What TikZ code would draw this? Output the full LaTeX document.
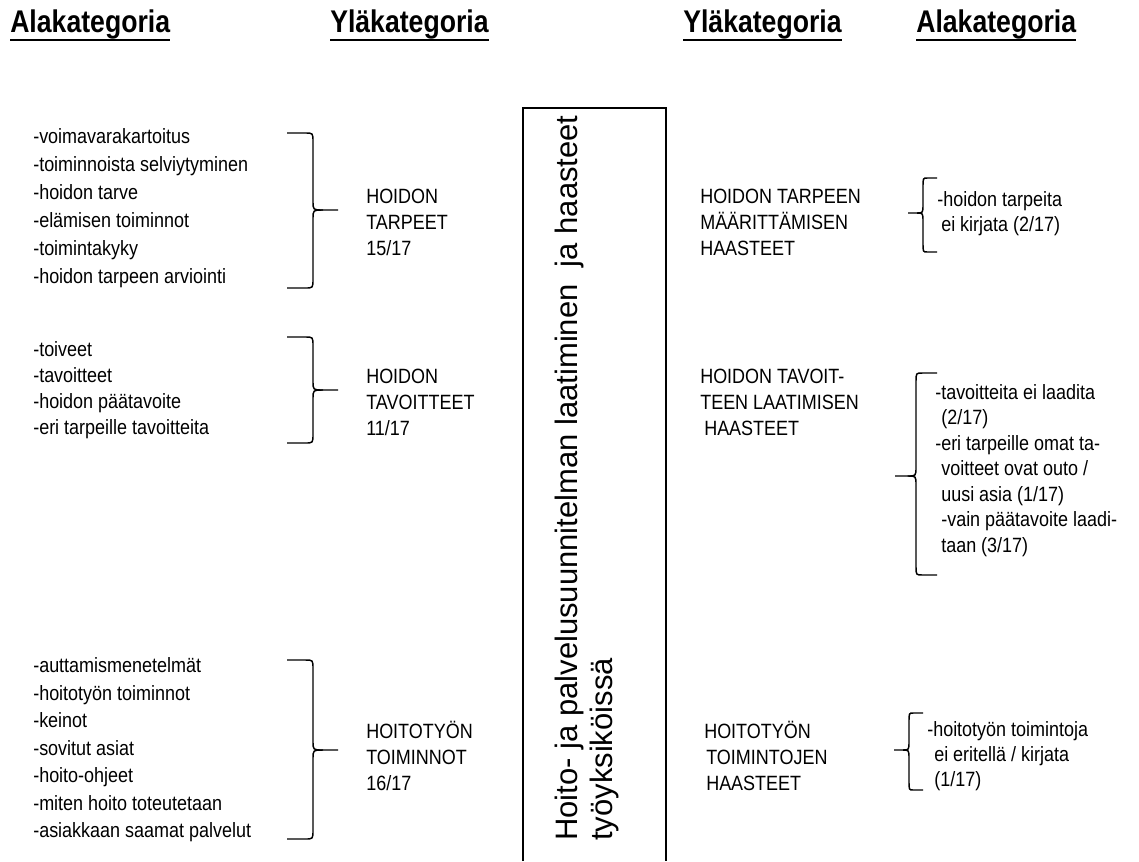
\documentclass[tikz,border=0pt]{standalone}
\usepackage{fontspec}
\setmainfont{Liberation Sans}
\newfontfamily\bodyfont[FakeStretch=0.87]{Liberation Sans}
\newfontfamily\hdrfont[FakeStretch=0.85]{Liberation Sans}
\tikzset{
  body/.style={font=\bodyfont\fontsize{15.5}{18}\selectfont, inner sep=0pt, anchor=base west},
  hdr/.style={font=\hdrfont\bfseries\fontsize{23.5}{28}\selectfont, inner sep=0pt, anchor=base west},
  vert/.style={font=\fontsize{23.25}{28}\selectfont, inner sep=0pt, anchor=base west, rotate=90},
  bracestyle/.style={line width=1.1pt},
  framestyle/.style={line width=1.1pt},
  uline/.style={line width=2.2pt}
}
% #1 end x, #2 vertical x, #3 tip x, #4 top y, #5 tip y, #6 bottom y
\newcommand\catbrace[6]{%
  \draw[bracestyle] (#1,#4) -- ({#2+0.3*(#1-#2)},#4) .. controls (#2,#4) .. (#2,{#4+9}) -- (#2,{#5-9}) .. controls (#2,#5) .. ({#2+0.4*(#3-#2)},#5) -- (#3,#5);
  \draw[bracestyle] ({#2+0.4*(#3-#2)},#5) .. controls (#2,#5) .. (#2,{#5+9}) -- (#2,{#6-9}) .. controls (#2,#6) .. ({#2+0.3*(#1-#2)},#6) -- (#1,#6);}
\begin{document}
\begin{tikzpicture}[x=0.75pt, y=-0.75pt]
\useasboundingbox (0,0) rectangle (1139,861);
% headers
\node[hdr] (h1) at (10,32) {Alakategoria};
\node[hdr] (h2) at (330,32) {Yläkategoria};
\node[hdr] (h3) at (683,32) {Yläkategoria};
\node[hdr] (h4) at (916,32) {Alakategoria};
\foreach \h in {h1,h2,h3,h4}
  \draw[uline] ([yshift=-6pt]\h.base west) -- ([yshift=-6pt]\h.base east);
% central frame
\draw[framestyle] (523,861) -- (523,108) -- (666,108) -- (666,861);
\node[vert] (v1) at (577,841) {Hoito- ja palvelusuunnitelman laatiminen\ \ ja haasteet};
\node[vert] (v2) at (612,841) {työyksiköissä};
% left lists
\foreach \t [count=\i] in {-voimavarakartoitus,-toiminnoista selviytyminen,-hoidon tarve,-elämisen toiminnot,-toimintakyky,-hoidon tarpeen arviointi}
  \node[body] (la\i) at (33,{115+28*\i}) {\t};
\foreach \t [count=\i] in {-toiveet,-tavoitteet,-hoidon päätavoite,-eri tarpeille tavoitteita}
  \node[body] (lb\i) at (33,{330+26*\i}) {\t};
\foreach \t [count=\i] in {-auttamismenetelmät,-hoitotyön toiminnot,-keinot,-sovitut asiat,-hoito-ohjeet,-miten hoito toteutetaan,-asiakkaan saamat palvelut}
  \node[body] (lc\i) at (33,{645+27.5*\i}) {\t};
% left braces
\catbrace{287}{313}{338}{133}{210}{288}
\catbrace{287}{313}{338}{337}{390}{443}
\catbrace{287}{313}{338}{660}{750}{839}
% left categories
\foreach \t [count=\i] in {HOIDON,TARPEET,15/17}
  \node[body] (ca\i) at (366,{177+26*\i}) {\t};
\foreach \t [count=\i] in {HOIDON,TAVOITTEET,11/17}
  \node[body] (cb\i) at (366,{357+26*\i}) {\t};
\foreach \t [count=\i] in {HOITOTYÖN,TOIMINNOT,16/17}
  \node[body] (cc\i) at (366,{712+26*\i}) {\t};
% right categories
\node[body] (ra1) at (700,203) {HOIDON TARPEEN};
\node[body] (ra2) at (700,229) {MÄÄRITTÄMISEN};
\node[body] (ra3) at (700,255) {HAASTEET};
\node[body] (rb1) at (700,383) {HOIDON TAVOIT-};
\node[body] (rb2) at (700,409) {TEEN LAATIMISEN};
\node[body] (rb3) at (704,435) {HAASTEET};
\node[body] (rc1) at (704,738) {HOITOTYÖN};
\node[body] (rc2) at (706,764) {TOIMINTOJEN};
\node[body] (rc3) at (706,790) {HAASTEET};
% right braces
\catbrace{937}{923}{908}{178}{213}{252}
\catbrace{937}{916}{895}{373}{476}{575}
\catbrace{923}{909}{894}{713}{750}{790}
% right lists
\node[body] (sa1) at (937,206) {-hoidon tarpeita};
\node[body] (sa2) at (941,231) {ei kirjata (2/17)};
\node[body] (sb1) at (935,399) {-tavoitteita ei laadita};
\node[body] (sb2) at (941,424.5) {(2/17)};
\node[body] (sb3) at (935,450) {-eri tarpeille omat ta-};
\node[body] (sb4) at (941,475.5) {voitteet ovat outo /};
\node[body] (sb5) at (941,501) {uusi asia (1/17)};
\node[body] (sb6) at (941,526.5) {-vain päätavoite laadi-};
\node[body] (sb7) at (941,552) {taan (3/17)};
\node[body] (sc1) at (927,736) {-hoitotyön toimintoja};
\node[body] (sc2) at (934,761) {ei eritellä / kirjata};
\node[body] (sc3) at (934,786) {(1/17)};
\end{tikzpicture}
\end{document}
